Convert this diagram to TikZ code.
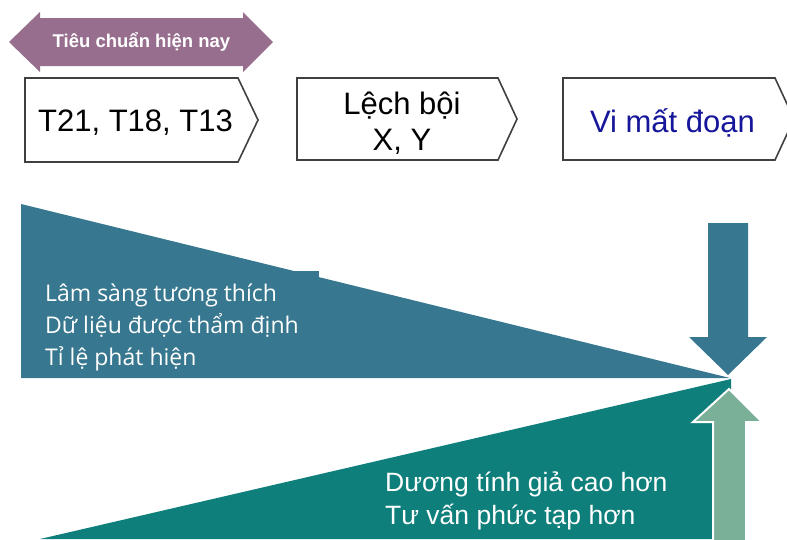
\documentclass[tikz,border=0pt]{standalone}
\usepackage{fontspec}
\setmainfont{Liberation Sans}
\newfontfamily\opensans{Open Sans}
\definecolor{purp}{HTML}{976E8E}
\definecolor{blu}{HTML}{37778F}
\definecolor{teal2}{HTML}{0E7F7B}
\definecolor{grn}{HTML}{7AAF98}
\definecolor{navy2}{HTML}{15169A}
\definecolor{bord}{HTML}{404040}
\tikzset{
  boxshape/.style={draw=bord, line width=1.6pt, fill=white},
  boxtext/.style={font=\fontsize{31}{36}\selectfont, align=center, inner sep=0pt},
  bluetext/.style={font=\opensans\fontsize{23}{32}\selectfont, text=white, align=left, anchor=north west, inner sep=0pt},
  tealtext/.style={font=\fontsize{26.5}{33}\selectfont, text=white, align=left, anchor=north west, inner sep=0pt}
}
\begin{document}
\begin{tikzpicture}[x=1pt,y=-1pt]
\useasboundingbox (0,0) rectangle (787,539);
% purple double arrow
\fill[purp] (9,42) -- (40,12) -- (40,18) -- (243,18) -- (243,12) -- (273,42) -- (243,72) -- (243,66) -- (40,66) -- (40,72) -- cycle;
\node[font=\bfseries\fontsize{18.5}{22}\selectfont, text=white, inner sep=0pt] (std) at (141.5,42) {Tiêu chuẩn hiện nay};
% boxes
\draw[boxshape] (25,78) -- (238,78) -- (258,120) -- (238,162) -- (25,162) -- cycle;
\node[boxtext] (b1) at (135.5,123) {T21, T18, T13};
\draw[boxshape] (297,78) -- (498,78) -- (517,119) -- (498,160) -- (297,160) -- cycle;
\node[boxtext] (b2) at (402,123.5) {Lệch bội\\X, Y};
\draw[boxshape] (563,78) -- (775,78) -- (794,119) -- (775,160) -- (563,160) -- cycle;
\node[boxtext, text=navy2] (b3) at (672.5,122.5) {Vi mất đoạn};
% blue triangle
\fill[blu] (21,204) -- (730,378) -- (21,378) -- cycle;
\fill[blu] (290,271) rectangle (319,285);
\node[bluetext] (lt) at (45,284) {Lâm sàng tương thích\\Dữ liệu được thẩm định\\Tỉ lệ phát hiện};
% teal triangle
\fill[teal2] (40,539) -- (731,379) -- (731,539) -- cycle;
\node[tealtext] (rt) at (385,472) {Dương tính giả cao hơn\\Tư vấn phức tạp hơn};
% down arrow
\fill[blu] (708,223) -- (748,223) -- (748,337) -- (767,337) -- (728,375) -- (689,337) -- (708,337) -- cycle;
% up arrow
\filldraw[fill=grn, draw=white, line width=2pt] (713,545) -- (713,422) -- (693,422) -- (729,389) -- (762,422) -- (746,422) -- (746,545) -- cycle;
\end{tikzpicture}
\end{document}
